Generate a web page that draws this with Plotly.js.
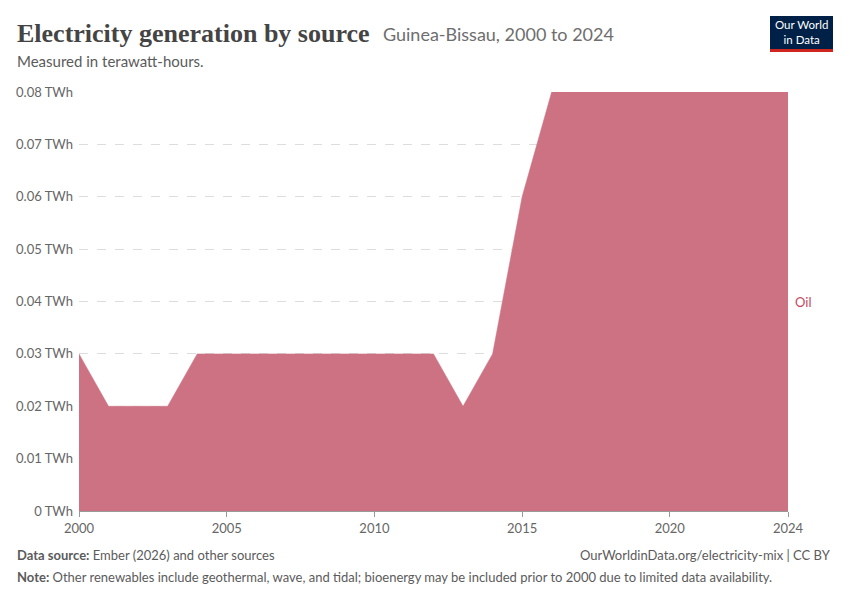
<!DOCTYPE html>
<html>
<head>
<meta charset="utf-8">
<script src="https://cdn.plot.ly/plotly-3.0.1.min.js"></script>
<style>
  html, body { margin: 0; padding: 0; background: #fff; }
  #chart { width: 850px; height: 600px; }
</style>
</head>
<body>
<div id="chart"></div>
<script>
const years = [2000, 2001, 2002, 2003, 2004, 2005, 2006, 2007, 2008, 2009, 2010, 2011, 2012,
               2013, 2014, 2015, 2016, 2017, 2018, 2019, 2020, 2021, 2022, 2023, 2024];
const oil = [0.03, 0.02, 0.02, 0.02, 0.03, 0.03, 0.03, 0.03, 0.03, 0.03, 0.03, 0.03, 0.03,
             0.02, 0.03, 0.06, 0.08, 0.08, 0.08, 0.08, 0.08, 0.08, 0.08, 0.08, 0.08];
const xTicks = [2000, 2005, 2010, 2015, 2020, 2024];
const yTicks = [0, 0.01, 0.02, 0.03, 0.04, 0.05, 0.06, 0.07, 0.08];
const yTickText = yTicks.map(v => v + ' TWh');

// plot box in pixels, used to place the header/footer in paper coords
const L = 79, R = 788, T = 92, B = 511;
const px = x => (x - L) / (R - L);
const py = y => (B - y) / (B - T);

const oilFill = 'rgb(204,114,130)';

let area = {
  x: years,
  y: oil,
  type: 'scatter',
  mode: 'lines',
  fill: 'tozeroy',
  fillcolor: oilFill,
  line: {color: oilFill, width: 0.5},
  name: 'Oil',
  hovertemplate: '%{y:.2f} TWh<extra></extra>'
};

let annotations = [
  {text: '<b>Electricity generation by source</b>', font: {family: 'Liberation Serif', size: 26, color: '#444'},
   x: px(15), y: py(33), xanchor: 'left', yanchor: 'middle'},
  {text: 'Guinea-Bissau, 2000 to 2024', font: {family: 'Lato', size: 18, color: '#6e6e6e'},
   x: px(381), y: py(34), xanchor: 'left', yanchor: 'middle'},
  {text: 'Measured in terawatt-hours.', font: {family: 'Lato', size: 15, color: '#5b5b5b'},
   x: px(15), y: py(61), xanchor: 'left', yanchor: 'middle'},
  {text: 'Our World<br>in Data', font: {family: 'Lato', size: 11.5, color: '#fff'},
   x: px(801.5), y: py(32), xanchor: 'center', yanchor: 'middle'},
  {text: 'Oil', font: {family: 'Lato', size: 13, color: '#c4495f'},
   x: px(793), y: 0.04, yref: 'y', xanchor: 'left', yanchor: 'middle'},
  {text: '<b>Data source:</b> Ember (2026) and other sources', font: {family: 'Lato', size: 13, color: '#5b5b5b'},
   x: px(15), y: py(555), xanchor: 'left', yanchor: 'middle'},
  {text: 'OurWorldinData.org/electricity-mix | CC BY', font: {family: 'Lato', size: 13, color: '#5b5b5b'},
   x: px(833), y: py(555), xanchor: 'right', yanchor: 'middle'},
  {text: '<b>Note:</b> Other renewables include geothermal, wave, and tidal; bioenergy may be included prior to 2000 due to limited data availability.',
   font: {family: 'Lato', size: 13, color: '#5b5b5b'},
   x: px(15), y: py(577), xanchor: 'left', yanchor: 'middle'}
].map(a => Object.assign({xref: 'paper', yref: 'paper', showarrow: false}, a));

let shapes = [
  {type: 'rect', xref: 'paper', yref: 'paper', x0: px(770), x1: px(833), y0: py(51), y1: py(16),
   fillcolor: '#002147', line: {width: 0}, layer: 'above'},
  {type: 'rect', xref: 'paper', yref: 'paper', x0: px(770), x1: px(833), y0: py(52), y1: py(49),
   fillcolor: '#ce261e', line: {width: 0}, layer: 'above'}
];

let layout = {
  width: 850,
  height: 600,
  margin: {l: L, r: 850 - R, t: T, b: 600 - B, pad: 0},
  paper_bgcolor: '#fff',
  plot_bgcolor: '#fff',
  showlegend: false,
  font: {family: 'Lato', color: '#666'},
  xaxis: {
    range: [2000, 2024],
    tickmode: 'array',
    tickvals: xTicks,
    ticks: 'outside',
    ticklen: 5,
    tickcolor: '#999',
    showgrid: false,
    showline: true,
    linecolor: '#999',
    zeroline: false,
    tickfont: {family: 'Lato', size: 13, color: '#666'},
    fixedrange: true
  },
  yaxis: {
    range: [0, 0.08],
    tickmode: 'array',
    tickvals: yTicks,
    ticktext: yTickText,
    ticklabelstandoff: 5,
    showgrid: true,
    gridcolor: '#ddd',
    griddash: 'dash',
    zeroline: false,
    showline: false,
    ticks: '',
    tickfont: {family: 'Lato', size: 13, color: '#666'},
    fixedrange: true
  },
  annotations: annotations,
  shapes: shapes
};

Plotly.newPlot('chart', [area], layout, {displayModeBar: false, staticPlot: true});
</script>
</body>
</html>
